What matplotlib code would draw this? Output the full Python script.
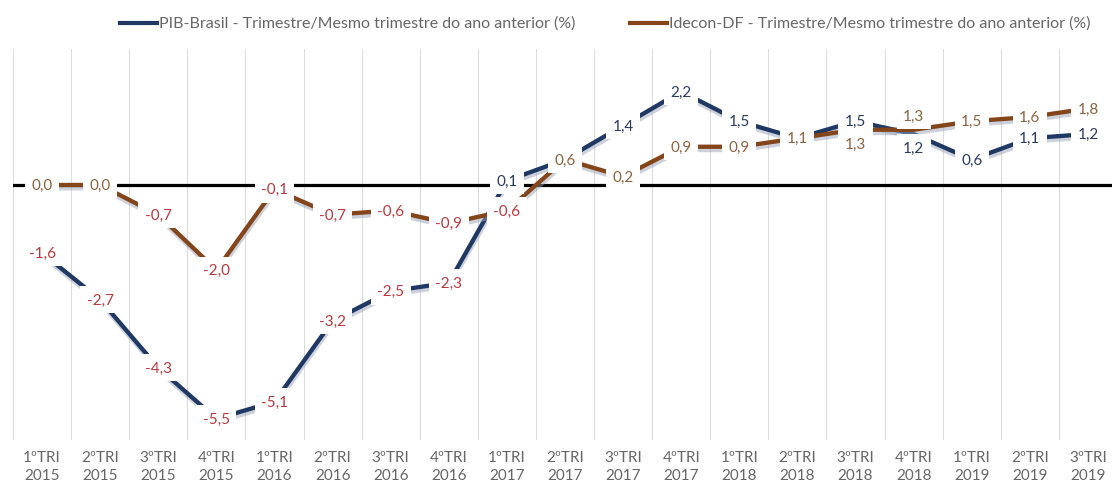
import matplotlib
matplotlib.use("Agg")
import matplotlib.pyplot as plt
import matplotlib.patheffects as pe
from matplotlib.lines import Line2D

# dados
trimestres = ["1ºTRI\n2015", "2ºTRI\n2015", "3ºTRI\n2015", "4ºTRI\n2015",
              "1ºTRI\n2016", "2ºTRI\n2016", "3ºTRI\n2016", "4ºTRI\n2016",
              "1ºTRI\n2017", "2ºTRI\n2017", "3ºTRI\n2017", "4ºTRI\n2017",
              "1ºTRI\n2018", "2ºTRI\n2018", "3ºTRI\n2018", "4ºTRI\n2018",
              "1ºTRI\n2019", "2ºTRI\n2019", "3ºTRI\n2019"]
pib_brasil = [-1.6, -2.7, -4.3, -5.5, -5.1, -3.2, -2.5, -2.3, 0.1, 0.6,
              1.4, 2.2, 1.5, 1.1, 1.5, 1.2, 0.6, 1.1, 1.2]
idecon_df = [0.0, 0.0, -0.7, -2.0, -0.1, -0.7, -0.6, -0.9, -0.6, 0.6,
             0.2, 0.9, 0.9, 1.1, 1.3, 1.3, 1.5, 1.6, 1.8]

NAVY = "#1f3864"
BROWN = "#84451b"
NEG_COLOR = "#b8393f"
POS_PIB = "#2b3a5c"
POS_IDE = "#8a6440"
GRAY = "#666666"

# deslocamento vertical (pontos) de alguns rótulos, como no Excel
pib_offsets = {15: -10}
ide_offsets = {14: -10, 15: 10}

plt.rcParams['font.family'] = ['Lato', 'DejaVu Sans']

fig = plt.figure(figsize=(11.12, 4.89), dpi=100)
ax = fig.add_axes([13 / 1112, 48 / 489, 1104 / 1112, 391 / 489])

x = list(range(len(trimestres)))

# grade vertical entre categorias
for b in range(len(trimestres) + 1):
    ax.axvline(b - 0.5, color="#dcdcdc", lw=0.8, zorder=0)

ax.axhline(0, color="black", lw=2.3, zorder=1)

shadow = [pe.SimpleLineShadow(offset=(0.5, -2.4), shadow_color="#9aa5b8", alpha=0.5),
          pe.Normal()]
ax.plot(x, pib_brasil, color=NAVY, lw=3.1, solid_capstyle="butt", zorder=3,
        path_effects=shadow)
ax.plot(x, idecon_df, color=BROWN, lw=3.1, solid_capstyle="butt", zorder=3,
        path_effects=shadow)


def fmt(v):
    return f"{v:.1f}".replace(".", ",")


def put_labels(vals, pos_color, offsets, z):
    for xi, v in zip(x, vals):
        c = NEG_COLOR if v < 0 else pos_color
        ax.annotate(fmt(v), (xi, v), xytext=(0, offsets.get(xi, 0)),
                    textcoords="offset points", ha="center", va="center",
                    fontsize=11, color=c, zorder=z,
                    bbox=dict(boxstyle="square,pad=0.42", fc="white", ec="none"))


put_labels(pib_brasil, POS_PIB, pib_offsets, 5)
put_labels(idecon_df, POS_IDE, ide_offsets, 6)

ax.set_xlim(-0.5, len(trimestres) - 0.5)
ax.set_ylim(-6.0, 3.2)
ax.set_xticks(x)
ax.set_xticklabels(trimestres, fontsize=11, color=GRAY, linespacing=1.35)
ax.tick_params(axis="x", length=0, pad=7)
ax.set_yticks([])
for s in ax.spines.values():
    s.set_visible(False)

# legenda
legend_items = [
    (NAVY, "PIB-Brasil - Trimestre/Mesmo trimestre do ano anterior (%)", 120),
    (BROWN, "Idecon-DF - Trimestre/Mesmo trimestre do ano anterior (%)", 630),
]
ly = 1 - 24 / 489
for col, lab, px in legend_items:
    fig.add_artist(Line2D([px / 1112, (px + 37) / 1112], [ly, ly], color=col,
                          lw=3.0, transform=fig.transFigure))
    fig.text((px + 39) / 1112, ly, lab, ha="left", va="center",
             fontsize=11.5, color=GRAY)

fig.savefig("out.png", dpi=100, facecolor="white")
